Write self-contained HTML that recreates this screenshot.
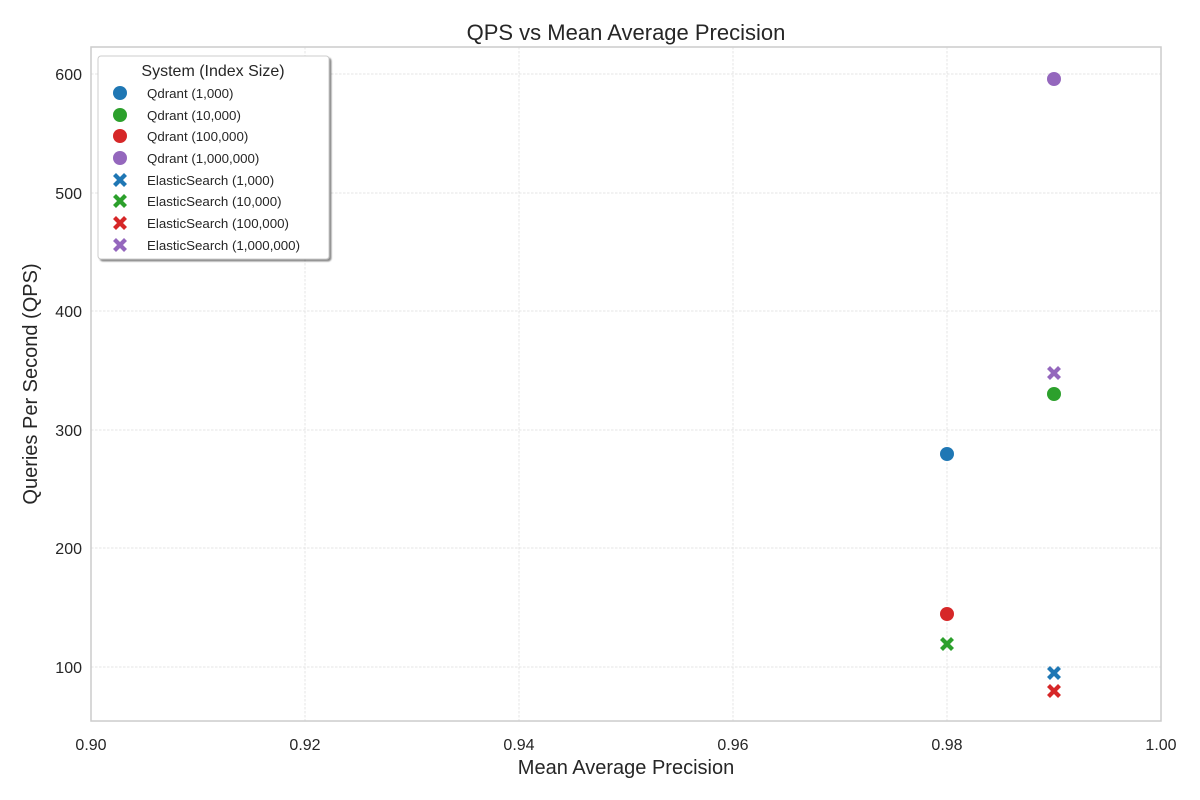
<!DOCTYPE html>
<html><head><style>body{margin:0;background:#fff}svg{display:block}text{font-family:"Liberation Sans",Arial,sans-serif;fill:#262626}</style></head>
<body>
<svg width="1200" height="800" xmlns="http://www.w3.org/2000/svg">
<defs>
<g id="x"><path d="M-5.5,-5.5L5.5,5.5M-5.5,5.5L5.5,-5.5" stroke-width="4.2" stroke-linecap="butt"/></g>
<filter id="sh"><feDropShadow dx="2" dy="2" stdDeviation="0.8" flood-color="#000" flood-opacity="0.45"/></filter>
</defs>
<rect width="1200" height="800" fill="#fff"/>
<g stroke="#dcdcdc" stroke-width="0.7" stroke-dasharray="2.5,1.5">
<line x1="305" y1="47" x2="305" y2="721"/><line x1="519" y1="47" x2="519" y2="721"/><line x1="733" y1="47" x2="733" y2="721"/><line x1="947" y1="47" x2="947" y2="721"/>
<line x1="91" y1="667" x2="1161" y2="667"/><line x1="91" y1="548" x2="1161" y2="548"/><line x1="91" y1="430" x2="1161" y2="430"/><line x1="91" y1="311" x2="1161" y2="311"/><line x1="91" y1="193" x2="1161" y2="193"/><line x1="91" y1="74" x2="1161" y2="74"/>
</g>
<rect x="91" y="47" width="1070" height="674" fill="none" stroke="#cccccc" stroke-width="1.5"/>
<text x="626" y="40" font-size="22" text-anchor="middle">QPS vs Mean Average Precision</text>
<g font-size="16" text-anchor="middle">
<text x="91" y="750">0.90</text><text x="305" y="750">0.92</text><text x="519" y="750">0.94</text><text x="733" y="750">0.96</text><text x="947" y="750">0.98</text><text x="1161" y="750">1.00</text>
</g>
<g font-size="16" text-anchor="end">
<text x="82" y="673">100</text><text x="82" y="554">200</text><text x="82" y="436">300</text><text x="82" y="317">400</text><text x="82" y="199">500</text><text x="82" y="80">600</text>
</g>
<text x="626" y="774" font-size="20" text-anchor="middle">Mean Average Precision</text>
<text transform="translate(37,384) rotate(-90)" font-size="20" text-anchor="middle">Queries Per Second (QPS)</text>
<circle cx="947" cy="454" r="7" fill="#1f77b4"/>
<circle cx="1054" cy="394" r="7" fill="#2ca02c"/>
<circle cx="947" cy="614" r="7" fill="#d62728"/>
<circle cx="1054" cy="79" r="7" fill="#9467bd"/>
<use href="#x" x="1054" y="673" stroke="#1f77b4"/>
<use href="#x" x="947" y="644" stroke="#2ca02c"/>
<use href="#x" x="1054" y="691" stroke="#d62728"/>
<use href="#x" x="1054" y="373" stroke="#9467bd"/>
<rect x="98" y="56" width="231" height="203" rx="3" fill="#fff" stroke="#cccccc" filter="url(#sh)"/>
<text x="213" y="76" font-size="16" text-anchor="middle">System (Index Size)</text>
<g font-size="13.3">
<circle cx="120" cy="93" r="7" fill="#1f77b4"/><text x="147" y="98">Qdrant (1,000)</text>
<circle cx="120" cy="115" r="7" fill="#2ca02c"/><text x="147" y="120">Qdrant (10,000)</text>
<circle cx="120" cy="136" r="7" fill="#d62728"/><text x="147" y="141">Qdrant (100,000)</text>
<circle cx="120" cy="158" r="7" fill="#9467bd"/><text x="147" y="163">Qdrant (1,000,000)</text>
<use href="#x" x="120" y="180" stroke="#1f77b4"/><text x="147" y="185">ElasticSearch (1,000)</text>
<use href="#x" x="120" y="201" stroke="#2ca02c"/><text x="147" y="206">ElasticSearch (10,000)</text>
<use href="#x" x="120" y="223" stroke="#d62728"/><text x="147" y="228">ElasticSearch (100,000)</text>
<use href="#x" x="120" y="245" stroke="#9467bd"/><text x="147" y="250">ElasticSearch (1,000,000)</text>
</g>
</svg>
</body></html>
